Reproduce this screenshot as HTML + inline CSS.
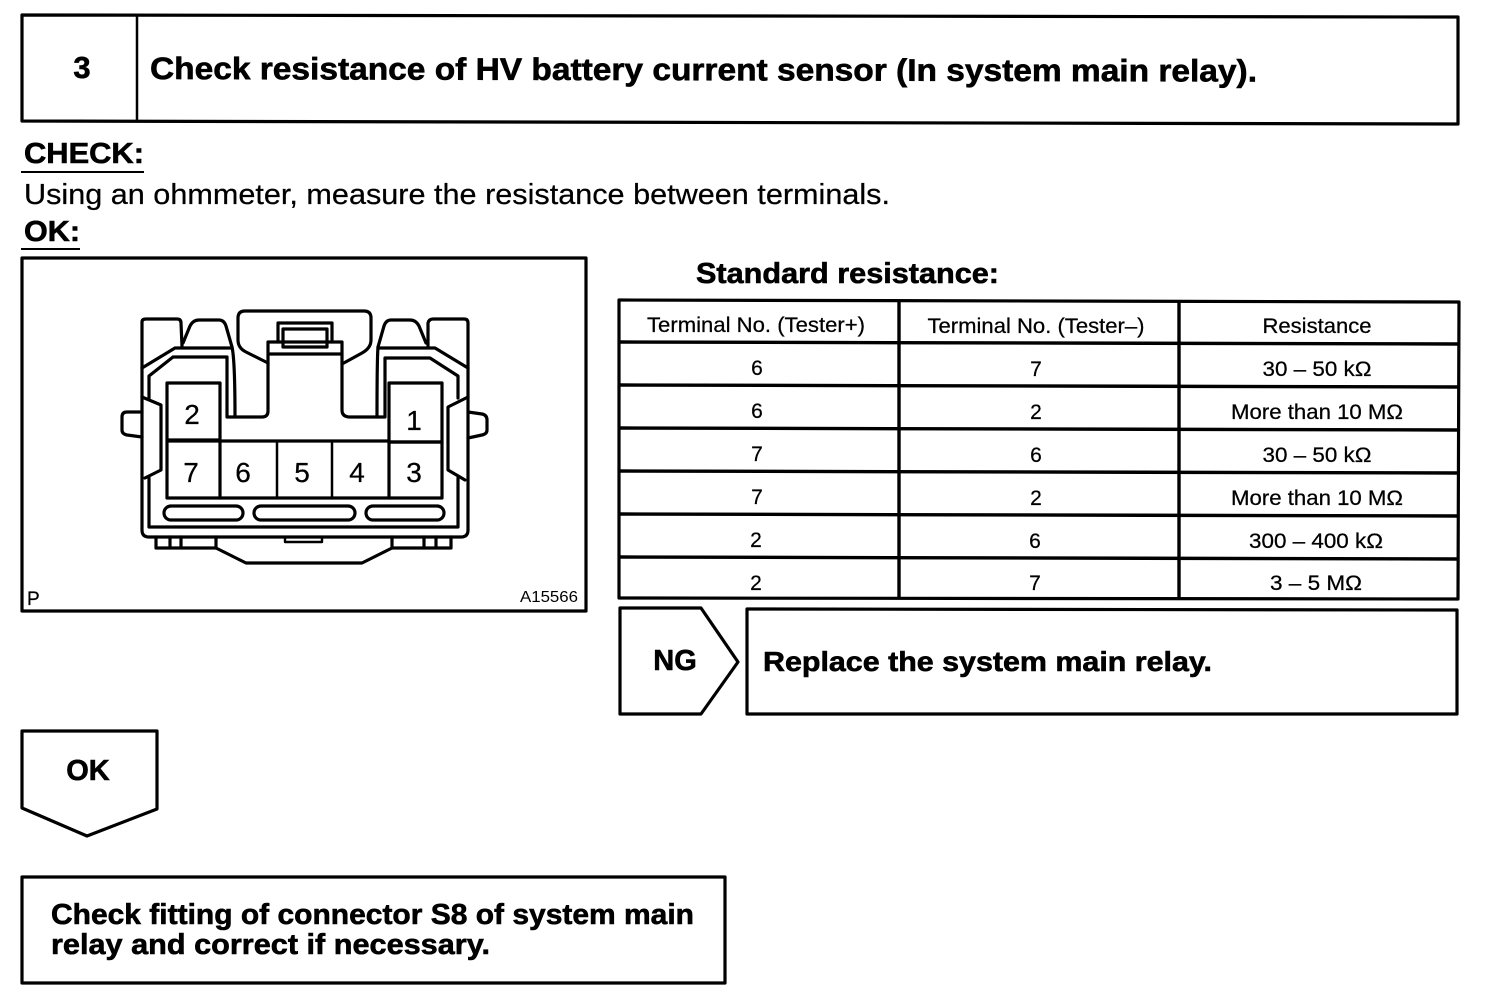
<!DOCTYPE html>
<html>
<head>
<meta charset="utf-8">
<style>
html,body{margin:0;padding:0;background:#fff;width:1504px;height:1004px;overflow:hidden}
svg{display:block}
text{font-family:"Liberation Sans",sans-serif;fill:#000}
.b{font-weight:bold;stroke:#000;stroke-width:.6px}
.r{stroke:#000;stroke-width:.25px}
.c{text-anchor:middle;font-size:21px;stroke:#000;stroke-width:.25px}
.l{fill:none;stroke:#000;stroke-width:3.2;stroke-linejoin:round;stroke-linecap:round}
.t{fill:none;stroke:#000;stroke-width:2.4;stroke-linejoin:round;stroke-linecap:round}
</style>
</head>
<body>
<svg width="1504" height="1004" viewBox="0 0 1504 1004" xmlns="http://www.w3.org/2000/svg">
<!-- header -->
<path class="l" d="M22 15 L1458 17 L1458 124 L22 121 Z"/>
<path class="l" d="M137 15 L137 120" style="stroke-width:2.5"/>
<text class="b" x="82" y="78" font-size="31" text-anchor="middle">3</text>
<text class="b" x="150" y="79" font-size="31" textLength="1107" lengthAdjust="spacingAndGlyphs" transform="rotate(0.13 150 79)">Check resistance of HV battery current sensor (In system main relay).</text>

<text class="b" x="24" y="163" font-size="29" textLength="120" lengthAdjust="spacingAndGlyphs">CHECK:</text>
<path d="M21 172 H144" stroke="#000" stroke-width="2"/>
<text class="r" x="24" y="204" font-size="29" textLength="866" lengthAdjust="spacingAndGlyphs">Using an ohmmeter, measure the resistance between terminals.</text>
<text class="b" x="24" y="241" font-size="29" textLength="56" lengthAdjust="spacingAndGlyphs">OK:</text>
<path d="M21 249 H80" stroke="#000" stroke-width="2"/>

<!-- figure box -->
<path class="l" d="M22 258 L586 258 L586 611 L22 611 Z"/>
<text class="r" x="27" y="605" font-size="19">P</text>
<text x="520" y="602" font-size="16" textLength="58" lengthAdjust="spacingAndGlyphs">A15566</text>

<!-- connector -->
<g>
<path class="l" d="M142 368 V322 Q142 319 146 319 H177 Q181 319 181 323 L182 346"/>
<path class="l" d="M183 343 L190 326 Q193 320 199 320 H219 Q224 320 226 326 L232 347"/>
<path class="l" d="M468 368 V323 Q468 319 464 319 H433 Q429 319 428 323 V346"/>
<path class="l" d="M426 343 L419 326 Q416 320 410 320 H391 Q386 320 384 326 L378 347"/>
<path class="l" d="M142 368 L175 348 H232"/>
<path class="l" d="M468 368 L435 348 H378"/>
<path class="l" d="M149 398 V376 L173 357 H227 V417 H262 Q268 417 268 411 V363 L246 352 Q238 348 238 340 V318 Q238 311 245 311 H364 Q371 311 371 318 V340 Q371 348 362 353 L342 364 V410 Q342 417 350 417 H385 V358 H430 L458 376 V398"/>
<path class="l" d="M232 347 Q235 360 235 417"/>
<path class="l" d="M378 347 Q377 360 377 417"/>
<path class="l" d="M268 364 V342 H342 V364 M268 354 H342"/>
<path class="l" d="M278 342 V323 H332 V342"/>
<path class="l" d="M283 347 V329 H327 V347 H283 Z"/>
<!-- side -->
<path class="l" d="M142 397 L161 405 V470 L145 478"/>
<path class="l" d="M468 397 L448 407 V470 L465 480"/>
<path class="l" d="M142 368 V530 Q142 537 149 537 H461 Q468 537 468 530 V368"/>
<path class="l" d="M149 478 V527 H458 V478"/>
<path class="l" d="M142 412 H127 Q122 412 122 417 V430 Q122 434 127 435 L142 437"/>
<path class="l" d="M468 412 L482 414 Q487 415 487 420 V430 Q487 434 482 435 L468 438"/>
<!-- terminals -->
<path class="l" d="M167 383 H220 V440 H167 Z"/>
<path class="l" d="M167 441 H220 V498 H167 Z"/>
<path class="l" d="M389 383 H442 V442 H389 Z"/>
<path class="l" d="M389 442 H442 V498 H389 Z"/>
<path class="l" d="M220 441 H389"/>
<path class="l" d="M220 498 H389"/>
<path class="l" d="M277 441 V498 M332 441 V498" style="stroke-width:2.5"/>
<rect class="l" x="164" y="506" width="79" height="14" rx="7"/>
<rect class="l" x="254" y="506" width="101" height="14" rx="7"/>
<rect class="l" x="366" y="506" width="78" height="14" rx="7"/>
<!-- bottom -->
<path class="l" d="M156 537 V548 H216 M170 537 V548 M181 537 V548"/>
<path class="l" d="M451 537 V548 H392 M424 537 V548 M436 537 V548"/>
<path class="l" d="M216 537 V548 L246 563 H362 L392 548 V537"/>
<path class="t" d="M285 537 V542 H322 V537"/>
</g>
<g font-size="28" text-anchor="middle">
<text class="r" x="192" y="424">2</text>
<text class="r" x="414" y="430">1</text>
<text class="r" x="191" y="482">7</text>
<text class="r" x="243" y="482">6</text>
<text class="r" x="302" y="482">5</text>
<text class="r" x="357" y="482">4</text>
<text class="r" x="414" y="482">3</text>
</g>

<!-- table -->
<text class="b" x="696" y="283" font-size="29" textLength="303" lengthAdjust="spacingAndGlyphs">Standard resistance:</text>
<path class="l" d="M619 300 L1459 302 L1458 599 L619 598 Z"/>
<g stroke="#000" stroke-width="3.4" fill="none">
<path d="M899 300 V598 M1179 301 V599"/>
<path d="M619 342 L1459 344"/>
<path d="M619 385 L1459 387"/>
<path d="M619 428 L1459 430"/>
<path d="M619 471 L1459 473"/>
<path d="M619 514 L1459 516"/>
<path d="M619 557 L1459 559"/>
</g>
<g>
<text class="c" x="756" y="332" textLength="218" lengthAdjust="spacingAndGlyphs">Terminal No. (Tester+)</text>
<text class="c" x="1036" y="333" textLength="217" lengthAdjust="spacingAndGlyphs">Terminal No. (Tester–)</text>
<text class="c" x="1317" y="333" textLength="109" lengthAdjust="spacingAndGlyphs">Resistance</text>
<text class="c" x="757" y="375">6</text><text class="c" x="1036" y="376">7</text><text class="c" x="1317" y="376" textLength="109" lengthAdjust="spacingAndGlyphs">30 – 50 kΩ</text>
<text class="c" x="757" y="418">6</text><text class="c" x="1036" y="419">2</text><text class="c" x="1317" y="419" textLength="172" lengthAdjust="spacingAndGlyphs">More than 10 MΩ</text>
<text class="c" x="757" y="461">7</text><text class="c" x="1036" y="462">6</text><text class="c" x="1317" y="462" textLength="109" lengthAdjust="spacingAndGlyphs">30 – 50 kΩ</text>
<text class="c" x="757" y="504">7</text><text class="c" x="1036" y="505">2</text><text class="c" x="1317" y="505" textLength="172" lengthAdjust="spacingAndGlyphs">More than 10 MΩ</text>
<text class="c" x="756" y="547">2</text><text class="c" x="1035" y="548">6</text><text class="c" x="1316" y="548" textLength="134" lengthAdjust="spacingAndGlyphs">300 – 400 kΩ</text>
<text class="c" x="756" y="590">2</text><text class="c" x="1035" y="590">7</text><text class="c" x="1316" y="590" textLength="92" lengthAdjust="spacingAndGlyphs">3 – 5 MΩ</text>
</g>

<!-- NG -->
<path class="l" d="M620 608 H701 L738 662 L701 714 H620 Z"/>
<text class="b" x="675" y="670" font-size="29" text-anchor="middle">NG</text>
<path class="l" d="M747 609 L1457 610 L1457 714 L747 714 Z"/>
<text class="b" x="763" y="671" font-size="28" textLength="449" lengthAdjust="spacingAndGlyphs">Replace the system main relay.</text>

<!-- OK -->
<path class="l" d="M22 731 H157 V809 L87 836 L22 808 Z"/>
<text class="b" x="88" y="780" font-size="29" text-anchor="middle">OK</text>

<!-- bottom box -->
<path class="l" d="M22 877 L725 877 L725 983 L22 983 Z"/>
<text class="b" x="51" y="924" font-size="29" textLength="643" lengthAdjust="spacingAndGlyphs">Check fitting of connector S8 of system main</text>
<text class="b" x="51" y="954" font-size="29" textLength="439" lengthAdjust="spacingAndGlyphs">relay and correct if necessary.</text>
</svg>
</body>
</html>
